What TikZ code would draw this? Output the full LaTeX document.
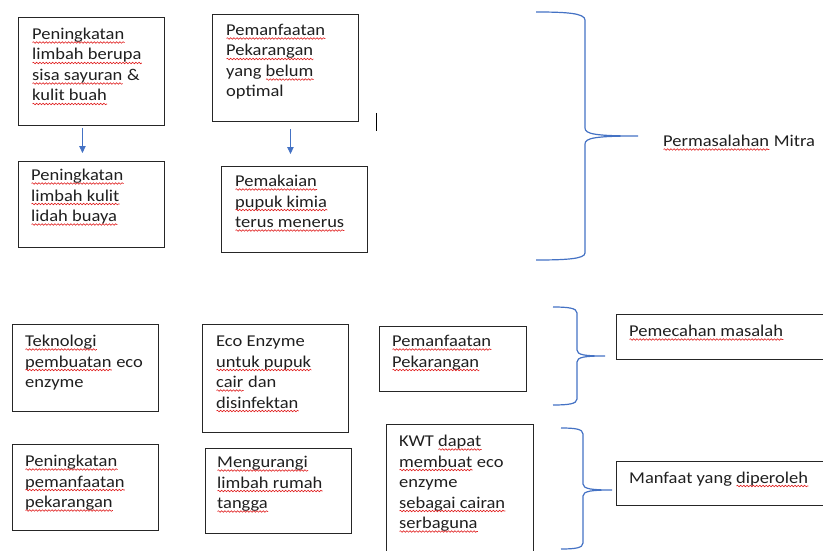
\documentclass[tikz,border=0pt]{standalone}
\usepackage{fontspec}
\setmainfont{Carlito}[FakeStretch=1.12]
\usetikzlibrary{arrows.meta,decorations.pathmorphing}
\definecolor{brc}{HTML}{4472C4}
\definecolor{sqc}{HTML}{E02020}
\newcommand\sq[1]{\setbox0=\hbox{#1}\edef\sqw{\the\wd0}\leavevmode\rlap{\copy0}\tikz[baseline=0pt]\draw[sqc,line width=0.6pt,decorate,decoration={snake,amplitude=0.8pt,segment length=3.2pt}] (0pt,-3pt) -- (\sqw,-3pt);}
\begin{document}
\begin{tikzpicture}[x=1pt,y=-1pt,
  box/.style={draw=black!85,line width=0.9pt,inner sep=0,anchor=north west},
  txt/.style={inner sep=0,anchor=base west,align=left,text=black!88,font=\fontsize{16.5}{20.5}\selectfont},
  arr/.style={draw=brc,line width=0.9pt,-{Triangle[width=6.5pt,length=7pt]}},
  brace/.style={draw=brc,line width=1.2pt}]
\useasboundingbox (0,0) rectangle (823,551);
\clip (0,0) rectangle (823,551);
% boxes
\node[box,minimum width=146,minimum height=108] (b1) at (18,17) {};
\node[box,minimum width=146,minimum height=107] (b2) at (212,14) {};
\node[box,minimum width=146,minimum height=86] (b3) at (18,161) {};
\node[box,minimum width=146,minimum height=86] (b4) at (221,166) {};
\node[box,minimum width=146,minimum height=87] (b5) at (12,324) {};
\node[box,minimum width=146,minimum height=108] (b6) at (202,324) {};
\node[box,minimum width=147,minimum height=65] (b7) at (379,326) {};
\node[box,minimum width=146,minimum height=86] (b8) at (12,444) {};
\node[box,minimum width=146,minimum height=85] (b9) at (205,448) {};
\node[box,minimum width=147,minimum height=140] (b10) at (386,424) {};
\node[box,minimum width=230,minimum height=45] (b11) at (616,314) {};
\node[box,minimum width=230,minimum height=44] (b12) at (616,461) {};
% texts (anchored at the baseline of their last line)
\node[txt] (t1) at (32,101) {\sq{Peningkatan}\\\sq{limbah berupa}\\\sq{sisa sayuran} \&\\\sq{kulit buah}};
\node[txt] (t2) at (226,97) {\sq{Pemanfaatan}\\\sq{Pekarangan}\\yang \sq{belum}\\optimal};
\node[txt] (t3) at (31,221.5) {\sq{Peningkatan}\\\sq{limbah kulit}\\\sq{lidah buaya}};
\node[txt] (t4) at (235,227.5) {\sq{Pemakaian}\\\sq{pupuk kimia}\\\sq{terus menerus}};
\node[txt] (t5) at (25,387.5) {\sq{Teknologi}\\\sq{pembuatan} eco\\enzyme};
\node[txt] (t6) at (216,408) {Eco Enzyme\\\sq{untuk pupuk}\\\sq{cair} dan\\\sq{disinfektan}};
\node[txt] (t7) at (392,367) {\sq{Pemanfaatan}\\\sq{Pekarangan}};
\node[txt] (t8) at (25,507.5) {\sq{Peningkatan}\\\sq{pemanfaatan}\\\sq{pekarangan}};
\node[txt] (t9) at (217,508.5) {\sq{Mengurangi}\\\sq{limbah rumah}\\\sq{tangga}};
\node[txt] (t10) at (399,528.5) {KWT \sq{dapat}\\\sq{membuat} eco\\enzyme\\\sq{sebagai cairan}\\\sq{serbaguna}};
\node[txt] (t11) at (629,336.5) {\sq{Pemecahan masalah}};
\node[txt] (t12) at (629,483) {Manfaat yang \sq{diperoleh}};
\node[txt] (t13) at (663,146.5) {\sq{Permasalahan} Mitra};
% arrows
\path (b2.south |- b4.north) coordinate (a2e);
\draw[arr] ([shift={(-9,2)}]b1.south) -- ([shift={(-9,-8)}]b3.north);
\draw[arr] ([shift={(5,7)}]b2.south) -- ([shift={(5,-12)}]a2e);
% cursor mark
\coordinate (c1) at (376,113);
\coordinate (c2) at (376,131);
\draw[black,line width=1pt] (c1) -- (c2);
% braces
\draw[brace] (536,12) .. controls (565,12) and (585,13) .. (585,20) -- (585,128) .. controls (585,134) and (595,136) .. (638,136) .. controls (595,136) and (585,138) .. (585,144) -- (585,253) .. controls (585,259) and (565,260) .. (536,260);
\draw[brace] (553,307) .. controls (568,307) and (577,308) .. (577,313) -- (577,350) .. controls (577,355) and (585,356) .. (605,356) .. controls (585,356) and (577,357) .. (577,362) -- (577,399) .. controls (577,404) and (568,405) .. (553,405);
\draw[brace] (561,428) .. controls (575,428) and (583,429) .. (583,434) -- (583,484) .. controls (583,489) and (592,490) .. (612,490) .. controls (592,490) and (583,491) .. (583,496) -- (583,543) .. controls (583,548) and (575,549) .. (561,549);
\end{tikzpicture}
\end{document}
